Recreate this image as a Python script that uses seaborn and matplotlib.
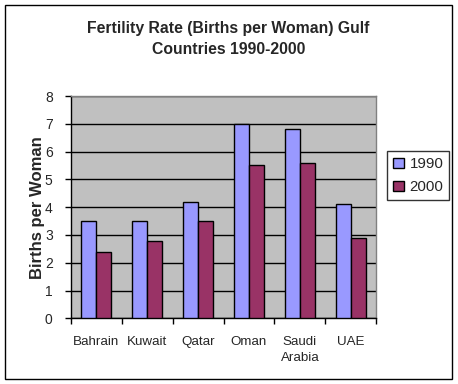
import matplotlib
matplotlib.use('Agg')
import matplotlib.pyplot as plt
import seaborn as sns
import pandas as pd
from matplotlib.patches import Rectangle

countries = ['Bahrain', 'Kuwait', 'Qatar', 'Oman', 'Saudi\nArabia', 'UAE']
rate_1990 = [3.5, 3.5, 4.2, 7.0, 6.8, 4.1]
rate_2000 = [2.4, 2.8, 3.5, 5.5, 5.6, 2.9]
years = ['1990', '2000']

df = pd.DataFrame({
    'Country': countries * 2,
    'Rate': rate_1990 + rate_2000,
    'Year': [years[0]] * len(countries) + [years[1]] * len(countries),
})

sns.set_style('white')
plt.rcParams['font.family'] = ['Liberation Sans', 'DejaVu Sans']

fig = plt.figure(figsize=(4.58, 3.84), dpi=100)
ax = fig.add_axes([0.1544, 0.171, 0.8216 - 0.1544, 0.75 - 0.171])
ax.set_facecolor('#C0C0C0')

sns.barplot(data=df, x='Country', y='Rate', hue='Year',
            palette=['#9999FF', '#993366'], width=0.6, gap=0,
            edgecolor='black', linewidth=1, saturation=1, ax=ax, zorder=3)

ax.set_ylim(0, 8)
ax.set_xlim(-0.5, len(countries) - 0.5)
ax.set_yticks(range(0, 9))
ax.yaxis.grid(True, color='black', linewidth=1, zorder=0)
ax.set_axisbelow(True)

ax.set_xticks([i - 0.5 for i in range(len(countries) + 1)], minor=True)
ax.set_xticks(range(len(countries)))
ax.set_xticklabels(countries, fontsize=9.6, linespacing=1.45)
ax.tick_params(axis='x', which='major', length=0, pad=13)
ax.tick_params(axis='x', which='minor', length=4, width=1, color='black', direction='out', bottom=True)
ax.tick_params(axis='y', length=4, width=1, color='black', direction='out', left=True, labelsize=10, pad=9)

for side in ['left', 'bottom']:
    ax.spines[side].set_color('black')
    ax.spines[side].set_linewidth(1)
for side in ['top', 'right']:
    ax.spines[side].set_color('#808080')
    ax.spines[side].set_linewidth(1)

ax.set_xlabel('')
ax.set_ylabel('Births per Woman', fontsize=12, fontweight='bold', labelpad=0)

fig.text(228.5 / 458, 1 - 39 / 384, 'Fertility Rate (Births per Woman) Gulf\nCountries 1990-2000',
         ha='center', va='center', fontsize=11.3, fontweight='bold', linespacing=1.5)

leg = ax.legend(loc='upper left', bbox_to_anchor=(387 / 458, 1 - 151 / 384),
                bbox_transform=fig.transFigure, frameon=True, fancybox=False,
                fontsize=10.8, handlelength=0.7, handleheight=0.7,
                handletextpad=0.4, borderpad=0.4, labelspacing=0.6, borderaxespad=0)
leg.get_frame().set_edgecolor('black')
leg.get_frame().set_linewidth(1)
for h in leg.legend_handles:
    h.set_edgecolor('black')
    h.set_linewidth(1)

fig.patches.append(Rectangle((5 / 458, 5 / 384), 447 / 458, 374 / 384,
                             transform=fig.transFigure, fill=False,
                             edgecolor='black', linewidth=1))

fig.savefig('out.png', dpi=100)
